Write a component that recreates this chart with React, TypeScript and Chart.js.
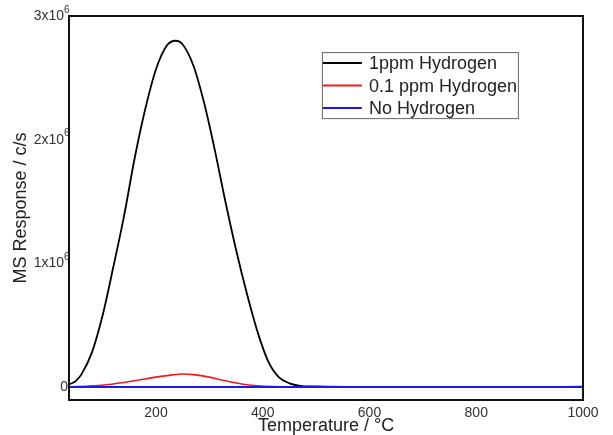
import React, { useEffect, useRef } from "react";
import { Chart, registerables } from "chart.js";

Chart.register(...registerables);

const seriesNames = ["1ppm Hydrogen", "0.1 ppm Hydrogen", "No Hydrogen"];
const seriesColors = ["#000000", "#ee1c1c", "#1a1af0"];

// Temperature (°C) / MS response (x10^6 c/s)
const tempBlack = [37, 50, 60, 80, 100, 120, 140, 160, 180, 200, 220, 237, 250, 270, 290, 310, 330, 350, 370, 390, 410, 430, 450, 470, 500, 600, 700, 800, 900, 1000];
const respBlack = [0.02, 0.05, 0.1, 0.28, 0.58, 0.97, 1.38, 1.85, 2.25, 2.57, 2.76, 2.8, 2.77, 2.6, 2.3, 1.92, 1.5, 1.11, 0.76, 0.45, 0.21, 0.08, 0.03, 0.01, 0.004, 0, 0, 0, 0, 0.002];

const tempRed = [37, 80, 120, 160, 200, 230, 250, 270, 300, 330, 360, 390, 420, 500, 600, 700, 800, 900, 1000];
const respRed = [0, 0.01, 0.025, 0.05, 0.08, 0.098, 0.105, 0.1, 0.08, 0.05, 0.025, 0.01, 0.003, 0, 0, 0, 0, 0, 0.002];

const tempBlue = [37, 200, 400, 600, 800, 1000];
const respBlue = [0, 0, 0, 0, 0, 0];

const xTicks = [200, 400, 600, 800, 1000];
const yTicks = [0, 1e6, 2e6, 3e6];
const yTickBase = ["0", "1x10", "2x10", "3x10"];
const yTickExp = ["", "6", "6", "6"];

const FONT = "'Liberation Sans', Arial, Helvetica, sans-serif";

const toPoints = (xs: number[], ys: number[]) => xs.map((x, i) => ({ x, y: ys[i] * 1e6 }));

const framePlugin = {
  id: "frameAndLegend",
  afterDraw(chart: any) {
    const { ctx, chartArea: a } = chart;
    ctx.save();

    // y tick labels with superscript exponent
    const ys = chart.scales.y;
    ctx.fillStyle = "#333";
    ctx.textBaseline = "middle";
    yTicks.forEach((v, i) => {
      const py = ys.getPixelForValue(v);
      if (yTickExp[i]) {
        ctx.font = `14px ${FONT}`;
        ctx.textAlign = "right";
        ctx.fillText(yTickBase[i], a.left - 5, py);
        ctx.font = `10px ${FONT}`;
        ctx.textAlign = "left";
        ctx.fillText(yTickExp[i], a.left - 5, py - 6);
      } else {
        ctx.font = `14px ${FONT}`;
        ctx.textAlign = "right";
        ctx.fillText(yTickBase[i], a.left - 1, py);
      }
    });

    ctx.strokeStyle = "#111";
    ctx.lineWidth = 2;
    ctx.strokeRect(a.left, a.top, a.right - a.left, a.bottom - a.top);

    // legend box inside plot area
    const w = a.right - a.left;
    const h = a.bottom - a.top;
    const bx = a.left + w * 0.492;
    const by = a.top + h * 0.094;
    const bw = 196;
    const bh = 66;
    ctx.fillStyle = "#ffffff";
    ctx.fillRect(bx, by, bw, bh);
    ctx.strokeStyle = "#666";
    ctx.lineWidth = 1;
    ctx.strokeRect(bx + 0.5, by + 0.5, bw, bh);
    ctx.font = `18px ${FONT}`;
    ctx.textBaseline = "middle";
    ctx.textAlign = "left";
    seriesNames.forEach((name, i) => {
      const y = by + 11 + i * 22.5;
      ctx.strokeStyle = seriesColors[i];
      ctx.lineWidth = 2;
      ctx.beginPath();
      ctx.moveTo(bx + 1, y);
      ctx.lineTo(bx + 40, y);
      ctx.stroke();
      ctx.fillStyle = "#222";
      ctx.fillText(name, bx + 47, y + 1);
    });
    ctx.restore();
  },
};

export default function App() {
  const canvasRef = useRef<HTMLCanvasElement | null>(null);

  useEffect(() => {
    if (!canvasRef.current) return;
    const chart = new Chart(canvasRef.current, {
      type: "line",
      data: {
        datasets: [
          {
            label: seriesNames[0],
            data: toPoints(tempBlack, respBlack),
            borderColor: seriesColors[0],
            borderWidth: 1.8,
            pointRadius: 0,
            cubicInterpolationMode: "monotone",
            order: 2,
          },
          {
            label: seriesNames[1],
            data: toPoints(tempRed, respRed),
            borderColor: seriesColors[1],
            borderWidth: 1.6,
            pointRadius: 0,
            cubicInterpolationMode: "monotone",
            order: 1,
          },
          {
            label: seriesNames[2],
            data: toPoints(tempBlue, respBlue),
            borderColor: seriesColors[2],
            borderWidth: 1.8,
            pointRadius: 0,
            order: 0,
          },
        ],
      },
      options: {
        animation: false,
        responsive: false,
        devicePixelRatio: 1,
        layout: { padding: { left: 0, top: 16, right: 30, bottom: 0 } },
        plugins: {
          legend: { display: false },
          tooltip: { enabled: false },
        },
        scales: {
          x: {
            type: "linear",
            min: 37,
            max: 1000,
            grid: { display: false, drawTicks: false },
            border: { display: false },
            afterBuildTicks: (scale: any) => {
              scale.ticks = xTicks.map((v) => ({ value: v }));
            },
            afterFit: (scale: any) => {
              scale.height = 35;
              scale.paddingLeft = 0;
              scale.paddingRight = 0;
            },
            ticks: {
              autoSkip: false,
              maxRotation: 0,
              padding: 5,
              color: "#333",
              font: { family: FONT, size: 14 },
              callback: (v: any) => String(v),
            },
            title: {
              display: true,
              text: "Temperature / °C",
              color: "#222",
              font: { family: FONT, size: 18, lineHeight: 1 },
              padding: 0,
            },
          },
          y: {
            type: "linear",
            min: -1.05e5,
            max: 3e6,
            grid: { display: false, drawTicks: false },
            border: { display: false },
            afterBuildTicks: (scale: any) => {
              scale.ticks = yTicks.map((v) => ({ value: v }));
            },
            afterFit: (scale: any) => {
              scale.width = 69;
              scale.paddingTop = 0;
              scale.paddingBottom = 0;
            },
            ticks: { display: false },
            title: {
              display: true,
              text: "MS Response / c/s",
              color: "#222",
              font: { family: FONT, size: 18, lineHeight: 1.2 },
              padding: { top: 10, bottom: 0 },
            },
          },
        },
      },
      plugins: [framePlugin],
    } as any);
    return () => chart.destroy();
  }, []);

  return (
    <div style={{ position: "fixed", left: 0, top: 0, width: 613, height: 435, background: "#fff" }}>
      <canvas ref={canvasRef} width={613} height={435} />
    </div>
  );
}
